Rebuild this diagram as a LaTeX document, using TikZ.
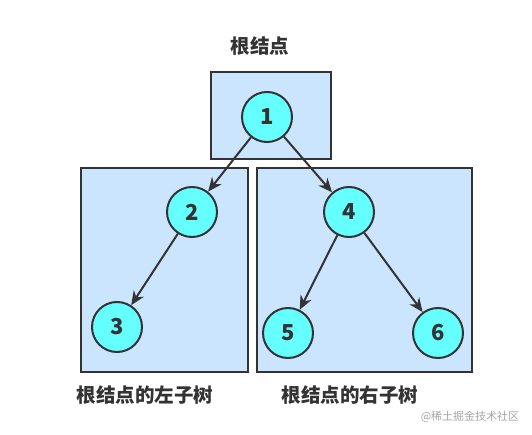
\documentclass[tikz,border=0pt]{standalone}
\usepackage{fontspec}
\setmainfont{Noto Sans CJK SC}
\usetikzlibrary{arrows.meta}
\definecolor{boxfill}{HTML}{CCE5FF}
\definecolor{nodefill}{HTML}{66FFFF}
\definecolor{ink}{HTML}{333333}
\tikzset{
  treenode/.style={circle, draw=ink, line width=2pt, fill=nodefill, minimum size=50pt, inner sep=0pt, font=\fontsize{22pt}{24pt}\selectfont\bfseries, text=ink},
  region/.style={draw=ink, line width=2pt, fill=boxfill},
  edge/.style={draw=ink, line width=2pt, -{Stealth[length=14pt,width=12pt]}},
  caption/.style={font=\fontsize{19.5pt}{22pt}\selectfont\bfseries, text=ink}
}
\begin{document}
\begin{tikzpicture}[x=1pt,y=-1pt]
\useasboundingbox (0,0) rectangle (532,435);
\fill[white] (0,0) rectangle (532,435);
\draw[region] (211,72) rectangle (331,159);
\draw[region] (81,168) rectangle (248,372);
\draw[region] (257,168) rectangle (472,372);
\node[treenode] (n1) at (267,117) {1};
\node[treenode] (n2) at (192,212) {2};
\node[treenode] (n3) at (117,327) {3};
\node[treenode] (n4) at (349,212) {4};
\node[treenode] (n5) at (288,333) {5};
\node[treenode] (n6) at (438,333) {6};
\draw[edge] (n1) -- (n2);
\draw[edge] (n1) -- (n4);
\draw[edge] (n2) -- (n3);
\draw[edge] (n4) -- (n5);
\draw[edge] (n4) -- (n6);
\node[caption] (t1) at (260,46) {根结点};
\node[caption] (t2) at (145,395) {根结点的左子树};
\node[caption] (t3) at (350,395) {根结点的右子树};
\node[font=\fontsize{11pt}{12pt}\selectfont, text=gray!70] (wm) at (470,417) {@稀土掘金技术社区};
\end{tikzpicture}
\end{document}
